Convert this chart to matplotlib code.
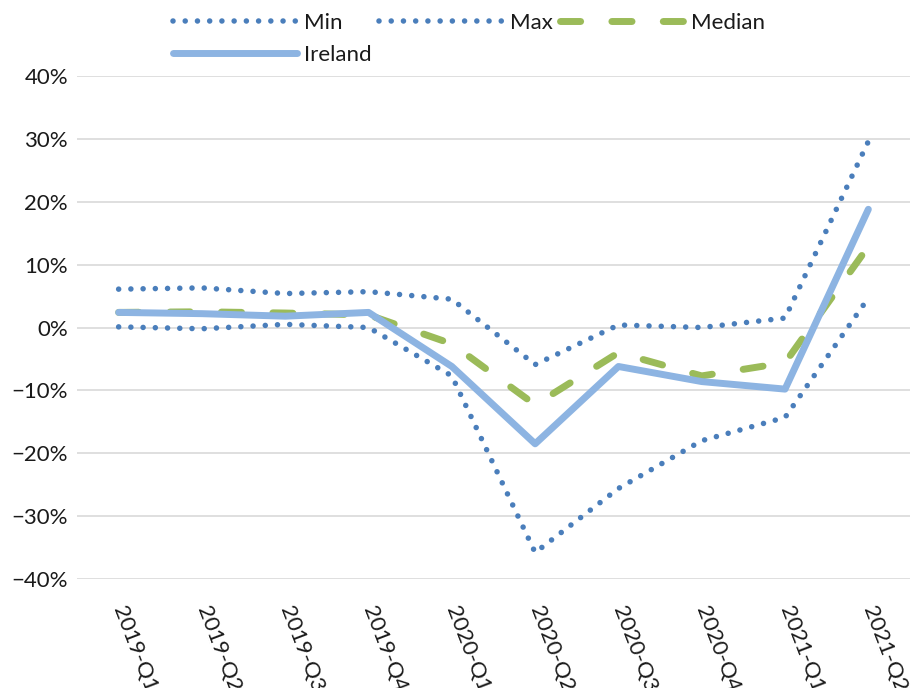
import numpy as np
import matplotlib
matplotlib.use("Agg")
import matplotlib.pyplot as plt
from matplotlib.ticker import PercentFormatter

plt.rcParams['font.family'] = ['Lato', 'DejaVu Sans']

quarters = ["2019-Q1", "2019-Q2", "2019-Q3", "2019-Q4", "2020-Q1",
            "2020-Q2", "2020-Q3", "2020-Q4", "2021-Q1", "2021-Q2"]

# quarterly change, in percent
min_vals = [0.1, -0.2, 0.5, 0.0, -7.7, -35.8, -25.6, -18.0, -14.3, 4.7]
max_vals = [6.1, 6.3, 5.4, 5.7, 4.5, -5.9, 0.4, 0.0, 1.5, 29.6]
median_vals = [2.4, 2.5, 2.3, 2.0, -2.6, -12.3, -4.0, -7.7, -5.6, 12.9]
ireland_vals = [2.4, 2.2, 1.8, 2.4, -6.2, -18.5, -6.2, -8.6, -9.8, 18.8]

text_color = "#1a1a1a"
dot_blue = "#4A7EBB"
green = "#9BBB59"
light_blue = "#8DB4E2"

fig = plt.figure(figsize=(9.15, 6.88), dpi=100)
ax = fig.add_axes([77 / 915, 1 - 579 / 688, 833 / 915, (579 - 76) / 688])

x = np.arange(len(quarters))
dots = (0, (0.001, 2.2))
l_min, = ax.plot(x, min_vals, color=dot_blue, lw=4.0, linestyle=dots,
                 dash_capstyle='round', solid_joinstyle='round', label="Min", zorder=3)
l_max, = ax.plot(x, max_vals, color=dot_blue, lw=4.0, linestyle=dots,
                 dash_capstyle='round', solid_joinstyle='round', label="Max", zorder=3)
l_med, = ax.plot(x, median_vals, color=green, lw=5.0, linestyle=(0, (2.9, 4.5)),
                 dash_capstyle='round', dash_joinstyle='round', label="Median", zorder=4)
l_ire, = ax.plot(x, ireland_vals, color=light_blue, lw=5.0, linestyle='-',
                 solid_capstyle='round', solid_joinstyle='round', label="Ireland", zorder=5)

ax.set_xlim(-0.5, len(quarters) - 0.5)
ax.set_ylim(-40, 40)
ax.set_yticks(np.arange(-40, 41, 10))
ax.yaxis.set_major_formatter(PercentFormatter(decimals=0))
ax.set_xticks(x)
ax.set_xticklabels(quarters, rotation=-69, ha='left', va='center',
                   rotation_mode='anchor')

ax.grid(axis='y', color='#D9D9D9', lw=1.2)
ax.set_axisbelow(True)
for s in ax.spines.values():
    s.set_visible(False)
ax.tick_params(axis='both', length=0, labelsize=16, colors=text_color)
ax.tick_params(axis='y', pad=6.5)
ax.tick_params(axis='x', pad=20)

leg = fig.legend([l_min, l_ire, l_max, l_med], ["Min", "Ireland", "Max", "Median"],
                 ncol=3, loc='upper left', bbox_to_anchor=(173 / 915, 1 - 13 / 688),
                 frameon=False, fontsize=16, handlelength=5.6, handletextpad=0.28,
                 columnspacing=0.35, labelspacing=0.53, borderpad=0, borderaxespad=0)
for t in leg.get_texts():
    t.set_color(text_color)

fig.savefig("out.png", dpi=100)
